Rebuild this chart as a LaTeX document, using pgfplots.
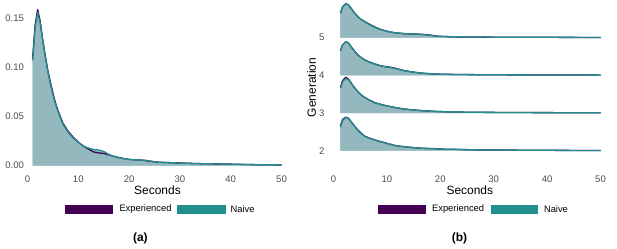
\documentclass[border=0pt]{standalone}
\usepackage{pgfplots}
\pgfplotsset{compat=1.18}
\usepackage{pgfplotstable}
\usepackage{fontspec}
\setmainfont{Liberation Sans}
\definecolor{expc}{HTML}{440154}
\definecolor{naic}{HTML}{21908C}
\definecolor{fillc}{HTML}{93B8BE}
\definecolor{tickc}{HTML}{4D4D4D}

\pgfplotstableread{
x e n
1 0.109 0.107
1.5 0.143 0.140
2 0.159 0.156
2.5 0.147 0.145
3 0.128 0.127
3.5 0.112 0.111
4 0.097 0.096
4.5 0.085 0.083
5 0.074 0.072
5.5 0.064 0.063
6 0.056 0.055
7 0.043 0.042
8 0.035 0.034
9 0.029 0.028
10 0.024 0.024
11 0.020 0.020
12 0.017 0.018
13 0.014 0.0165
14 0.013 0.016
15 0.0125 0.0145
16 0.011 0.0115
17 0.0095 0.0095
18 0.0082 0.0082
19 0.0072 0.0072
20 0.0064 0.0064
21 0.006 0.006
22 0.0058 0.0058
23 0.0054 0.0056
24 0.0046 0.0049
25 0.0039 0.0040
26 0.0035 0.0035
28 0.0031 0.0031
30 0.0028 0.0027
32 0.0024 0.0024
34 0.0021 0.0021
36 0.0019 0.0019
38 0.0018 0.0017
40 0.0016 0.0016
42 0.0013 0.0014
44 0.0011 0.0012
46 0.0010 0.0010
48 0.0009 0.0009
50 0.0008 0.0008
}\dens

\pgfplotstableread{
x e n
1.3 0.65 0.66
1.7 0.82 0.82
2.3 0.90 0.91
2.8 0.87 0.87
3.3 0.78 0.78
3.9 0.66 0.66
4.55 0.56 0.557
5.2 0.48 0.48
5.8 0.43 0.425
6.7 0.36 0.35
7.66 0.29 0.276
8.6 0.23 0.225
9.53 0.19 0.186
10.5 0.155 0.155
11.4 0.133 0.133
12.3 0.12 0.12
13.3 0.105 0.11
14.5 0.098 0.10
15.8 0.095 0.09
17 0.085 0.078
18.3 0.065 0.055
19.5 0.04 0.035
21 0.03 0.028
23 0.022 0.024
25 0.018 0.02
28 0.015 0.016
31 0.013 0.013
35 0.011 0.011
38 0.01 0.01
41 0.009 0.009
44 0.008 0.008
47 0.006 0.007
50 0.005 0.005
}\gfive

\pgfplotstableread{
x e n
1.3 0.66 0.655
1.7 0.81 0.81
2.3 0.89 0.894
2.8 0.86 0.86
3.3 0.76 0.76
3.9 0.65 0.65
4.55 0.54 0.54
5.2 0.47 0.47
5.8 0.415 0.41
6.7 0.355 0.35
7.66 0.305 0.30
8.6 0.265 0.26
9.53 0.235 0.23
10.5 0.22 0.21
11.4 0.195 0.186
12.3 0.16 0.155
13.3 0.125 0.124
14.5 0.095 0.095
15.8 0.07 0.07
17.3 0.05 0.05
18.9 0.036 0.035
21 0.028 0.027
23 0.024 0.023
25 0.02 0.02
28 0.017 0.017
31 0.014 0.015
35 0.012 0.012
38 0.011 0.011
41 0.01 0.01
44 0.009 0.008
47 0.007 0.007
50 0.005 0.005
}\gfour

\pgfplotstableread{
x e n
1.3 0.68 0.655
1.7 0.86 0.83
2.3 0.95 0.92
2.8 0.90 0.88
3.3 0.80 0.79
3.9 0.68 0.67
4.55 0.57 0.566
5.2 0.48 0.48
5.8 0.42 0.416
6.7 0.345 0.34
7.66 0.28 0.274
8.6 0.24 0.235
9.53 0.205 0.204
10.5 0.175 0.175
11.4 0.15 0.15
12.3 0.125 0.128
13.3 0.105 0.106
14.5 0.088 0.088
15.8 0.072 0.071
17.3 0.056 0.056
18.9 0.045 0.044
21 0.034 0.033
23 0.027 0.027
25 0.022 0.022
28 0.018 0.018
31 0.016 0.016
33 0.016 0.014
35 0.012 0.012
38 0.011 0.011
41 0.01 0.01
44 0.008 0.008
47 0.007 0.007
50 0.005 0.005
}\gthree

\pgfplotstableread{
x e n
1.3 0.66 0.62
1.7 0.83 0.80
2.3 0.89 0.885
2.8 0.86 0.86
3.3 0.77 0.77
3.9 0.66 0.66
4.55 0.55 0.55
5.2 0.46 0.46
5.8 0.39 0.39
6.7 0.335 0.33
7.66 0.29 0.283
8.6 0.25 0.245
9.53 0.215 0.212
10.5 0.175 0.175
11.4 0.142 0.142
12.3 0.12 0.122
13.3 0.105 0.106
14.5 0.088 0.088
15.8 0.072 0.071
17.3 0.062 0.06
18.9 0.055 0.05
21 0.038 0.038
22.5 0.036 0.04
24 0.03 0.034
26 0.024 0.025
28 0.02 0.02
31 0.018 0.017
34 0.015 0.013
37 0.012 0.012
40 0.01 0.01
44 0.008 0.008
47 0.006 0.006
50 0.005 0.005
}\gtwo

\pgfplotsset{
  ridgebase/.style={
    scale only axis, clip=false,
    axis line style={draw=none}, major tick length=0pt,
    xmin=0, xmax=50, xtick={0,10,20,30,40,50},
    xticklabels={0,10,20,30,40,50},
    /pgf/number format/assume math mode=true,
    ticklabel style={font=\fontsize{9.6}{11}\selectfont, text=tickc},
  },
  fillst/.style={fill=fillc, draw=none},
  expline/.style={draw=expc, line width=1.3bp, line join=round},
  nailine/.style={draw=naic, line width=1.3bp, line join=round},
}

\newcommand{\ridge}[2]{%
  \addplot[fillst] table[x=x, y expr=\thisrow{e}+#2]{#1} -- (axis cs:50,#2) -- (axis cs:1.3,#2) -- cycle;
  \addplot[fillst] table[x=x, y expr=\thisrow{n}+#2]{#1} -- (axis cs:50,#2) -- (axis cs:1.3,#2) -- cycle;
  \addplot[expline] table[x=x, y expr=\thisrow{e}+#2]{#1};
  \addplot[nailine] table[x=x, y expr=\thisrow{n}+#2]{#1};
}

\begin{document}
\begin{tikzpicture}
\path[use as bounding box] (0,0) rectangle (617bp,249bp);

\begin{axis}[ridgebase,
  at={(27.5bp,83.3bp)}, anchor=south west,
  width=254bp, height=163.1bp,
  ymin=0, ymax=0.166,
  ytick={0,0.05,0.1,0.15}, yticklabels={0.00,0.05,0.10,0.15},
  xticklabel style={yshift=-7bp},
]
\addplot[fillst] table[x=x, y=e]{\dens} \closedcycle;
\addplot[fillst] table[x=x, y=n]{\dens} \closedcycle;
\addplot[expline] table[x=x, y=e]{\dens};
\addplot[nailine] table[x=x, y=n]{\dens};
\end{axis}

\begin{axis}[ridgebase,
  at={(333.5bp,98.3bp)}, anchor=south west,
  width=267bp, height=150.7bp,
  ymin=2, ymax=6,
  ytick={2,3,4,5}, yticklabels={2,3,4,5},
  xticklabel style={yshift=-22bp},
  yticklabel style={xshift=-5.5bp},
]
\ridge{\gfive}{5}
\ridge{\gfour}{4}
\ridge{\gthree}{3}
\ridge{\gtwo}{2}
\end{axis}

% axis titles
\node[anchor=base, inner sep=0pt, font=\fontsize{12}{14}\selectfont] at (157.5bp,54bp) {Seconds};
\node[anchor=base, inner sep=0pt, font=\fontsize{12}{14}\selectfont] at (469.8bp,54bp) {Seconds};
\node[rotate=90, font=\fontsize{12}{14}\selectfont] at (311.7bp,161.5bp) {Generation};

% legends
\fill[expc] (65bp,35bp) rectangle (113.3bp,44bp);
\node[anchor=west, inner sep=0pt, font=\fontsize{9.4}{11}\selectfont] at (119.3bp,39.5bp) {Experienced};
\fill[naic] (177.3bp,35bp) rectangle (225.7bp,44bp);
\node[anchor=west, inner sep=0pt, font=\fontsize{9.4}{11}\selectfont] at (230.5bp,39.5bp) {Naive};

\fill[expc] (378.1bp,35bp) rectangle (426bp,44bp);
\node[anchor=west, inner sep=0pt, font=\fontsize{9.4}{11}\selectfont] at (431.9bp,39.5bp) {Experienced};
\fill[naic] (490.8bp,35bp) rectangle (537.9bp,44bp);
\node[anchor=west, inner sep=0pt, font=\fontsize{9.4}{11}\selectfont] at (543.8bp,39.5bp) {Naive};

% captions
\node[anchor=base, font=\bfseries\fontsize{12}{14}\selectfont] at (140.4bp,8bp) {(a)};
\node[anchor=base, font=\bfseries\fontsize{12}{14}\selectfont] at (459.4bp,8bp) {(b)};
\end{tikzpicture}
\end{document}
